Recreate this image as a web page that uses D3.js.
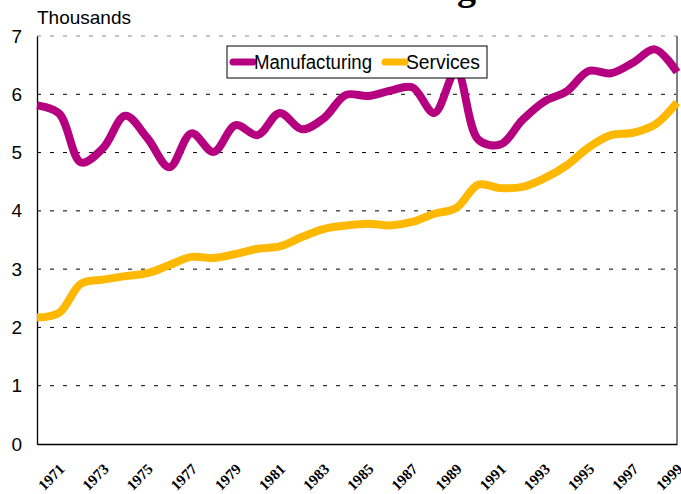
<!DOCTYPE html>
<html>
<head>
<meta charset="utf-8">
<script src="https://cdn.jsdelivr.net/npm/d3@7"></script>
<style>
  body { margin: 0; background: #fff; }
  svg { display: block; }
</style>
</head>
<body>
<svg id="chart" width="681" height="494"></svg>
<script>
var years = d3.range(1970, 2000);
var manufacturing = [5.81, 5.67, 4.83, 5.08, 5.63, 5.25, 4.75, 5.33, 5.01, 5.47,
                     5.30, 5.68, 5.40, 5.59, 5.99, 5.97, 6.06, 6.12, 5.68, 6.40,
                     5.22, 5.14, 5.56, 5.88, 6.05, 6.40, 6.36, 6.54, 6.77, 6.38];
var services = [2.17, 2.25, 2.75, 2.82, 2.88, 2.93, 3.07, 3.21, 3.19, 3.26,
                3.35, 3.39, 3.55, 3.69, 3.75, 3.78, 3.75, 3.81, 3.95, 4.05,
                4.45, 4.39, 4.41, 4.56, 4.78, 5.09, 5.30, 5.34, 5.48, 5.86];
var yTicks = [0, 1, 2, 3, 4, 5, 6, 7];
var xLabels = years.filter(function(y) { return y % 2 == 1; });

var series = [
  { name: 'Manufacturing', values: manufacturing, color: '#b5007f', textLen: 118 },
  { name: 'Services', values: services, color: '#ffb800', textLen: 74 }
];

var dims = { width: 681, height: 494, margin: { top: 36, bottom: 50, left: 37, right: 4 } };
var narrow = "'Liberation Sans', Arial, sans-serif";

var svg = d3.select("#chart");

var xScale = d3.scalePoint()
    .domain(years)
    .range([dims.margin.left, dims.width - dims.margin.right]);
var yScale = d3.scaleLinear()
    .domain([0, 7])
    .range([dims.height - dims.margin.bottom, dims.margin.top]);

// title, mostly cut off at the top
svg.append("text")
    .attr("x", 476).attr("y", 0)
    .attr("text-anchor", "end")
    .style("font-family", "'Liberation Serif', serif")
    .style("font-weight", "bold")
    .style("font-size", "38px")
    .text("Manufacturing");

// gridlines
svg.append("g")
    .selectAll("line")
    .data(yTicks.filter(function(d) { return d > 0; }))
    .enter().append("line")
    .attr("x1", dims.margin.left)
    .attr("x2", dims.width - dims.margin.right)
    .attr("y1", function(d) { return yScale(d); })
    .attr("y2", function(d) { return yScale(d); })
    .attr("stroke", function(d) { return d == 7 ? "#888" : "#000"; })
    .attr("stroke-width", 1)
    .attr("stroke-dasharray", "4,9");

// right border
svg.append("line")
    .attr("x1", dims.width - dims.margin.right).attr("x2", dims.width - dims.margin.right)
    .attr("y1", yScale(7)).attr("y2", yScale(0))
    .attr("stroke", "#808080").attr("stroke-width", 2);

// y axis
var yAxis = svg.append("g")
    .attr("transform", "translate(" + dims.margin.left + ",0)")
    .call(d3.axisLeft(yScale).tickValues(yTicks).tickFormat(d3.format("d")).tickSize(0).tickPadding(15));
yAxis.select(".domain").attr("stroke", "#000").attr("stroke-width", 1.3);
yAxis.selectAll("text")
    .style("font-family", narrow)
    .style("font-size", "19px")
    .attr("fill", "#000");

// x axis
var xAxis = svg.append("g")
    .attr("transform", "translate(0," + yScale(0) + ")")
    .call(d3.axisBottom(xScale).tickValues(xLabels).tickSize(0).tickPadding(0));
xAxis.select(".domain").attr("stroke", "#000").attr("stroke-width", 1.5);
xAxis.selectAll("text")
    .style("font-family", "'Liberation Serif', serif")
    .style("font-weight", "bold")
    .style("font-size", "15px")
    .style("text-anchor", "end")
    .attr("fill", "#000")
    .attr("dx", "0")
    .attr("dy", "0")
    .attr("transform", "translate(6,26) rotate(-45)");

svg.append("text")
    .attr("x", 37).attr("y", 24)
    .attr("textLength", 94)
    .attr("lengthAdjust", "spacingAndGlyphs")
    .style("font-family", narrow)
    .style("font-size", "19px")
    .text("Thousands");

// lines
var line = d3.line()
    .x(function(d, i) { return xScale(years[i]); })
    .y(function(d) { return yScale(d); })
    .curve(d3.curveCatmullRom.alpha(0.5));

svg.append("g")
    .selectAll("path")
    .data(series)
    .enter().append("path")
    .attr("d", function(s) { return line(s.values); })
    .attr("fill", "none")
    .attr("stroke", function(s) { return s.color; })
    .attr("stroke-width", 8)
    .attr("stroke-linejoin", "round");

// legend
var legend = svg.append("g").attr("transform", "translate(227,46)");
legend.append("rect")
    .attr("width", 260).attr("height", 32)
    .attr("fill", "#fff").attr("stroke", "#000").attr("stroke-width", 1);
var items = legend.selectAll(".item")
    .data(series)
    .enter().append("g")
    .attr("class", "item")
    .attr("transform", function(d, i) { return "translate(" + [6, 158][i] + ",16)"; });
items.append("line")
    .attr("x1", 0).attr("x2", 20)
    .attr("stroke", function(d) { return d.color; })
    .attr("stroke-width", 7)
    .attr("stroke-linecap", "round");
items.append("text")
    .attr("x", 21).attr("y", 7)
    .attr("textLength", function(d) { return d.textLen; })
    .attr("lengthAdjust", "spacingAndGlyphs")
    .style("font-family", narrow)
    .style("font-size", "20px")
    .text(function(d) { return d.name; });
</script>
</body>
</html>
